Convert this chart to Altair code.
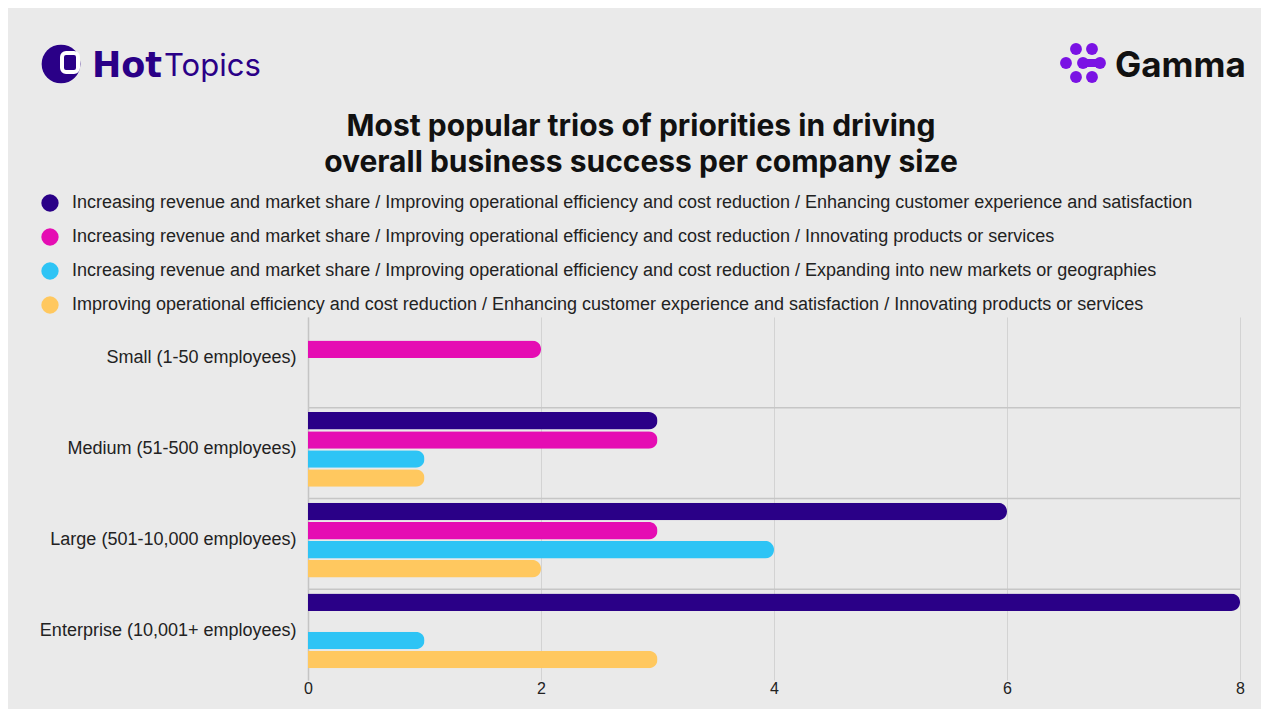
import altair as alt
import pandas as pd

# ---------------- data ----------------
categories = [
    "Small (1-50 employees)",
    "Medium (51-500 employees)",
    "Large (501-10,000 employees)",
    "Enterprise (10,001+ employees)",
]
series = [
    "Increasing revenue and market share / Improving operational efficiency and cost reduction / Enhancing customer experience and satisfaction",
    "Increasing revenue and market share / Improving operational efficiency and cost reduction / Innovating products or services",
    "Increasing revenue and market share / Improving operational efficiency and cost reduction / Expanding into new markets or geographies",
    "Improving operational efficiency and cost reduction / Enhancing customer experience and satisfaction / Innovating products or services",
]
colors = ["#2a0087", "#e50db3", "#2ec4f5", "#ffc85f"]

values_s1 = [None, 3, 6, 8]
values_s2 = [2, 3, 3, None]
values_s3 = [None, 1, 4, 1]
values_s4 = [None, 1, 2, 3]
x_ticks = [0, 2, 4, 6, 8]

title_lines = [
    "Most popular trios of priorities in driving",
    "overall business success per company size",
]

rows = []
for s, vals in zip(series, [values_s1, values_s2, values_s3, values_s4]):
    for c, v in zip(categories, vals):
        if v is not None:
            rows.append({"category": c, "series": s, "value": v})
df = pd.DataFrame(rows)

TEXT = "#222222"
LABEL_FONT = "Liberation Sans"
BG = "#eaeaea"

# ---------------- chart ----------------
y_enc = alt.Y(
    "category:N",
    sort=categories,
    scale=alt.Scale(domain=categories, paddingInner=0, paddingOuter=0),
    axis=alt.Axis(
        title=None, labelFontSize=18, labelColor=TEXT, labelFont=LABEL_FONT,
        labelPadding=12, labelOffset=-4, ticks=False, domain=True,
        domainColor="#c4c4c4", domainWidth=1.5, grid=False, labelLimit=400,
    ),
)

separators = alt.Chart(pd.DataFrame({"category": categories[1:]})).mark_rule(
    color="#c6c6c6", strokeWidth=1.5
).encode(
    y=alt.Y("category:N", sort=categories, bandPosition=0),
    x=alt.datum(0),
    x2=alt.datum(8),
)

bars = alt.Chart(df).mark_bar(cornerRadiusEnd=9).encode(
    y=y_enc,
    yOffset=alt.YOffset(
        "series:N",
        sort=series,
        scale=alt.Scale(domain=series, paddingInner=0.08, paddingOuter=0.425, align=0.27),
    ),
    x=alt.X(
        "value:Q",
        scale=alt.Scale(domain=[0, 8]),
        axis=alt.Axis(
            title=None, values=x_ticks, grid=True, gridColor="#d3d3d3",
            ticks=False, domain=False, labelFontSize=16, labelColor=TEXT,
            labelFont=LABEL_FONT, labelPadding=0, labelFlush=False, format="d",
        ),
    ),
    color=alt.Color(
        "series:N",
        sort=series,
        scale=alt.Scale(domain=series, range=colors),
        legend=alt.Legend(
            title=None, orient="none", legendX=-267, legendY=-123,
            symbolType="circle", symbolSize=300, symbolStrokeWidth=0,
            symbolOpacity=1, labelFontSize=18, labelColor=TEXT,
            labelFont=LABEL_FONT, labelLimit=1300, labelOffset=13,
            rowPadding=16,
        ),
    ),
)

one = pd.DataFrame({"a": [0]})


def text_layer(txt, x, y, size, weight="normal", color=TEXT, align="left", font=LABEL_FONT):
    return alt.Chart(one).mark_text(
        text=txt, fontSize=size, fontWeight=weight, color=color, align=align,
        baseline="alphabetic", font=font,
    ).encode(x=alt.value(x), y=alt.value(y))


# plot origin in page coords is (308, 317)
OX, OY = 308, 317

title1 = text_layer(title_lines[0], 641 - OX, 136 - OY, 30, "bold", "#111111", "center", "Inter")
title2 = text_layer(title_lines[1], 641 - OX, 172 - OY, 30, "bold", "#111111", "center", "Inter")

# HotTopics logo
PURPLE = "#2a0087"
ht_circle = alt.Chart(one).mark_circle(size=1500, color=PURPLE, opacity=1).encode(
    x=alt.value(61 - OX), y=alt.value(64 - OY)
)
ht_hook = alt.Chart(one).mark_rect(
    fill=None, stroke="white", strokeWidth=4, cornerRadius=4
).encode(
    x=alt.value(62 - OX), x2=alt.value(78 - OX), y=alt.value(53 - OY), y2=alt.value(72 - OY)
)
ht_hot = text_layer("Hot", 92 - OX, 77 - OY, 35, "bold", PURPLE, "left", "DejaVu Sans")
ht_topics = text_layer("Topics", 164 - OX, 76 - OY, 31, "normal", PURPLE, "left", "Inter")

# Gamma logo
GPURPLE = "#7a12e4"
dot_pos = [(1076, 49), (1092, 49), (1066, 63), (1083, 63), (1100, 63), (1076, 77), (1092, 77)]
dots = [
    alt.Chart(one).mark_circle(size=140, color=GPURPLE, opacity=1).encode(
        x=alt.value(px - OX), y=alt.value(py - OY)
    )
    for px, py in dot_pos
]
g_link = alt.Chart(one).mark_rect(color=GPURPLE).encode(
    x=alt.value(1083 - OX), x2=alt.value(1100 - OX), y=alt.value(59 - OY), y2=alt.value(67 - OY)
)
gamma_txt = text_layer("Gamma", 1115 - OX, 77 - OY, 35, "bold", "#111111", "left", "Inter")

chart = alt.layer(
    separators, bars, title1, title2,
    ht_circle, ht_hook, ht_hot, ht_topics,
    *dots, g_link, gamma_txt,
).properties(
    width=932,
    height=363,
    autosize=alt.AutoSizeParams(type="none"),
    padding={"left": 300, "top": 309, "right": 21, "bottom": 29},
    background=BG,
).configure_view(strokeWidth=0)

chart.save("out.html", embed_options={"renderer": "svg", "actions": False})
